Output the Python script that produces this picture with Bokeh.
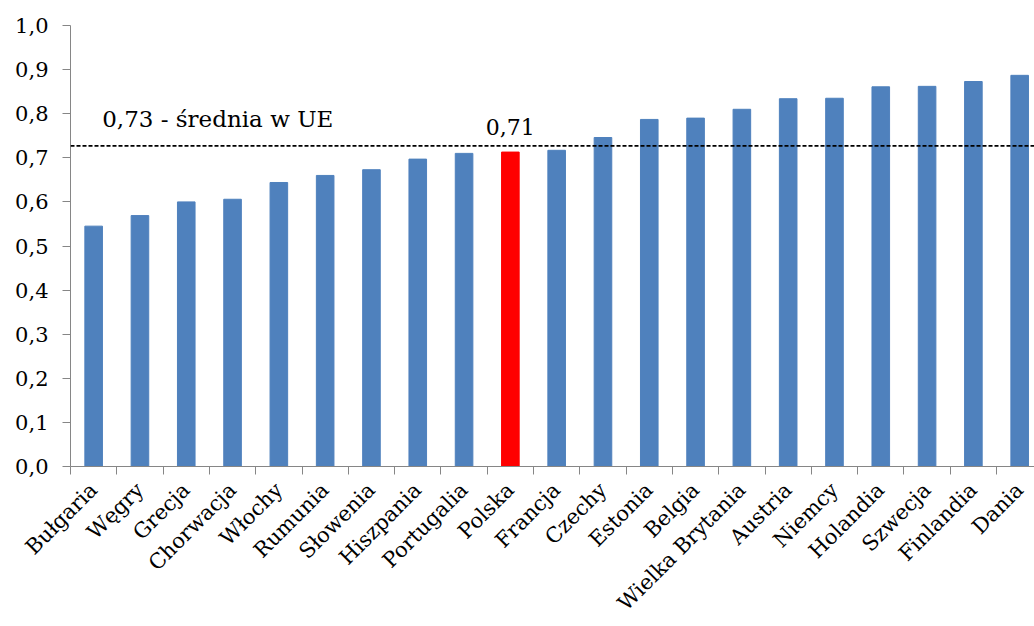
from bokeh.plotting import figure
from bokeh.models import ColumnDataSource, Span, Label, FixedTicker, CustomJSTickFormatter, Range1d
from bokeh.embed import file_html
from bokeh.resources import INLINE

countries = ["Bułgaria", "Węgry", "Grecja", "Chorwacja", "Włochy", "Rumunia", "Słowenia",
             "Hiszpania", "Portugalia", "Polska", "Francja", "Czechy", "Estonia", "Belgia",
             "Wielka Brytania", "Austria", "Niemcy", "Holandia", "Szwecja", "Finlandia", "Dania"]
values = [0.545, 0.569, 0.600, 0.606, 0.644, 0.660, 0.673, 0.697, 0.710, 0.713, 0.717,
          0.746, 0.787, 0.790, 0.810, 0.834, 0.835, 0.861, 0.862, 0.873, 0.887]
eu_average = 0.727
eu_label = "0,73 - średnia w UE"
highlight = "Polska"

BLUE = "#4F81BD"
RED = "#FF0000"
FONT = "DejaVu Serif"
FS = "21px"

xs = list(range(len(countries)))
colors = [RED if c == highlight else BLUE for c in countries]
src = ColumnDataSource(dict(x=xs, top=values, color=colors))

p = figure(width=1034, height=626, output_backend="svg", toolbar_location=None,
           x_range=Range1d(-0.5, len(countries) - 0.68), y_range=Range1d(0, 1),
           min_border_left=70, min_border_top=25, min_border_bottom=150, min_border_right=0)
p.outline_line_color = None
p.xgrid.visible = False
p.ygrid.visible = False

p.vbar(x="x", top="top", width=0.38, source=src, fill_color="color", line_color="color")

p.add_layout(Span(location=eu_average, dimension="width", line_color="black",
                  line_dash="4 2", line_width=1.8))

p.add_layout(Label(x=0.185, y=0.788, text=eu_label, text_font=FONT, text_font_size="23px",
                   text_color="black", text_baseline="alphabetic"))
pi = countries.index(highlight)
p.add_layout(Label(x=pi, y=0.769, text=f"{values[pi]:.2f}".replace(".", ","),
                   text_font=FONT, text_font_size="22px", text_color="black",
                   text_align="center", text_baseline="alphabetic"))

# y axis
ya = p.yaxis[0]
ya.ticker = FixedTicker(ticks=[i / 10 for i in range(11)], minor_ticks=[])
ya.formatter = CustomJSTickFormatter(code="return tick.toFixed(1).replace('.', ',');")
ya.axis_line_color = "#868686"
ya.major_tick_line_color = "#868686"
ya.major_tick_out = 8
ya.major_tick_in = 0
ya.minor_tick_line_color = None
ya.major_label_text_font = FONT
ya.major_label_text_font_size = FS
ya.major_label_text_color = "black"
ya.major_label_standoff = 14

# x axis
xa = p.xaxis[0]
xa.ticker = FixedTicker(ticks=xs, minor_ticks=[i - 0.5 for i in range(len(countries) + 1)])
xa.major_label_overrides = {i: c for i, c in enumerate(countries)}
xa.axis_line_color = "#868686"
xa.major_tick_line_color = None
xa.minor_tick_line_color = "#868686"
xa.minor_tick_out = 8
xa.minor_tick_in = 0
xa.major_label_text_font = FONT
xa.major_label_text_font_size = FS
xa.major_label_text_color = "black"
xa.major_label_orientation = 0.785398
xa.major_label_standoff = 12

open("out.html", "w").write(file_html(p, INLINE))
